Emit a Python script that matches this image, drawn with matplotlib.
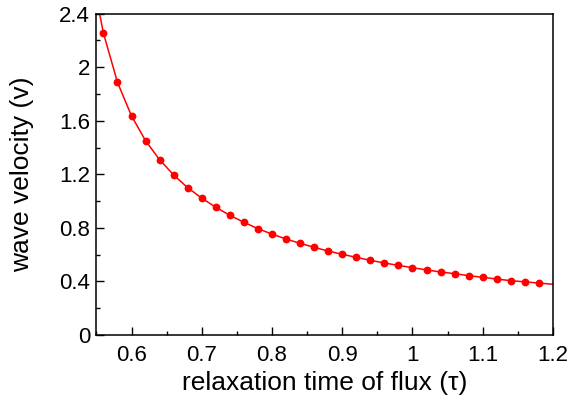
import numpy as np
import matplotlib.pyplot as plt
from matplotlib.ticker import MultipleLocator

plt.rcParams['font.family'] = ['Liberation Sans', 'DejaVu Sans']

# sampled points (markers)
tau = [0.56, 0.58, 0.60, 0.62, 0.64, 0.66, 0.68, 0.70, 0.72, 0.74,
       0.76, 0.78, 0.80, 0.82, 0.84, 0.86, 0.88, 0.90, 0.92, 0.94,
       0.96, 0.98, 1.00, 1.02, 1.04, 1.06, 1.08, 1.10, 1.12, 1.14,
       1.16, 1.18]
velocity = [2.255, 1.887, 1.636, 1.451, 1.309, 1.195, 1.100, 1.022, 0.954, 0.894,
            0.842, 0.794, 0.754, 0.717, 0.685, 0.655, 0.627, 0.603, 0.580, 0.558,
            0.538, 0.520, 0.503, 0.486, 0.471, 0.458, 0.443, 0.431, 0.418, 0.406,
            0.397, 0.388]

# curve end points (beyond the markers)
tau_start, v_start = 0.55, 2.52
tau_end, v_end = 1.20, 0.379

line_tau = [tau_start] + tau + [tau_end]
line_v = [v_start] + velocity + [v_end]

xtick_vals = [0.6, 0.7, 0.8, 0.9, 1.0, 1.1, 1.2]
xtick_labels = ['0.6', '0.7', '0.8', '0.9', '1', '1.1', '1.2']
ytick_vals = [0, 0.4, 0.8, 1.2, 1.6, 2.0, 2.4]
ytick_labels = ['0', '0.4', '0.8', '1.2', '1.6', '2', '2.4']

fig = plt.figure(figsize=(5.76, 4.03), dpi=100)
ax = fig.add_axes([0.1674, 0.1687, 0.7926, 0.7973])

ax.plot(line_tau, line_v, color='#ff0000', lw=1.1, zorder=2)
ax.plot(tau, velocity, 'o', color='#ff0000', ms=4.6, zorder=3, clip_on=False)

ax.set_xlim(0.55, 1.2)
ax.set_ylim(0, 2.4)
ax.set_xticks(xtick_vals)
ax.set_xticklabels(xtick_labels)
ax.set_yticks(ytick_vals)
ax.set_yticklabels(ytick_labels)
ax.xaxis.set_minor_locator(MultipleLocator(0.05))
ax.yaxis.set_minor_locator(MultipleLocator(0.2))

ax.tick_params(which='both', direction='in', top=False, right=False, labelsize=16, width=1)
ax.tick_params(which='major', length=6)
ax.tick_params(which='minor', length=3)
ax.tick_params(axis='x', which='major', pad=7)
ax.tick_params(axis='y', which='major', pad=4.5)
for s in ax.spines.values():
    s.set_linewidth(1.1)

ax.set_xlabel('relaxation time of flux (τ)', fontsize=19)
ax.set_ylabel('wave velocity (v)', fontsize=19)
ax.xaxis.set_label_coords(0.5, -0.112)
ax.yaxis.set_label_coords(-0.137, 0.5)

plt.savefig('out.png', dpi=100)
